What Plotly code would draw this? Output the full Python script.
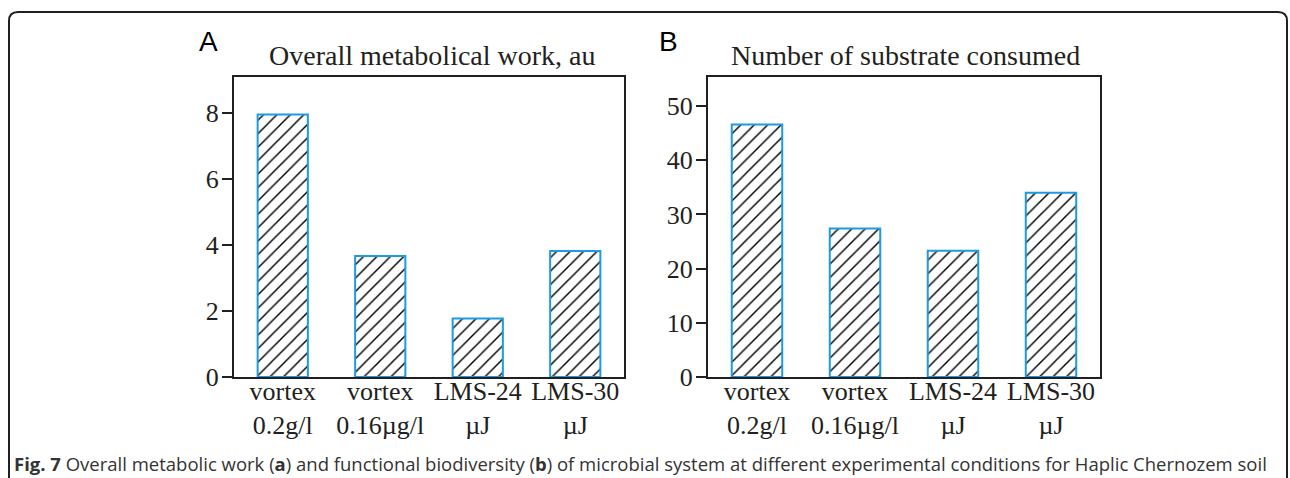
import plotly.graph_objects as go

categories = ["vortex<br>0.2g/l", "vortex<br>0.16µg/l", "LMS-24<br>µJ", "LMS-30<br>µJ"]
work_values = [7.95, 3.67, 1.77, 3.82]
substrate_values = [46.6, 27.4, 23.3, 34.0]
ticks_a = [0, 2, 4, 6, 8]
ticks_b = [0, 10, 20, 30, 40, 50]
title_a = "Overall metabolical work, au"
title_b = "Number of substrate consumed"
caption = ("<b>Fig. 7</b> Overall metabolic work (<b>a</b>) and functional biodiversity "
           "(<b>b</b>) of microbial system at different experimental conditions for Haplic Chernozem soil")

W, H = 1290, 478
BLUE = "#1E9BE0"
SERIF = "Liberation Serif, Times New Roman, serif"

def px_x(v):
    return v / W

def px_y(v):
    return 1 - v / H

fig = go.Figure()
bar_style = dict(
    marker=dict(color="white",
                line=dict(color=BLUE, width=2),
                pattern=dict(shape="/", fgcolor="black", fgopacity=1, bgcolor="white",
                             size=9.5, solidity=0.15)),
    width=0.515, showlegend=False, hoverinfo="skip",
)
fig.add_trace(go.Bar(x=categories, y=work_values, xaxis="x", yaxis="y", **bar_style))
fig.add_trace(go.Bar(x=categories, y=substrate_values, xaxis="x2", yaxis="y2", **bar_style))

ydom = [px_y(377), px_y(77)]
common_x = dict(showline=True, linecolor="#231f20", linewidth=2, mirror=True, ticks="",
                showgrid=False, zeroline=False, type="category", automargin=False,
                tickfont=dict(family=SERIF, size=26, color="#231f20"), ticklabelstandoff=-10)
common_y = dict(showline=True, linecolor="#231f20", linewidth=2, mirror=True, ticks="outside",
                ticklen=10, tickwidth=1.5, tickcolor="#231f20", showgrid=False, zeroline=False,
                automargin=False, tickfont=dict(family=SERIF, size=26, color="#231f20"),
                ticklabelstandoff=-2)

fig.update_layout(
    width=W, height=H,
    margin=dict(l=0, r=0, t=0, b=0),
    paper_bgcolor="white", plot_bgcolor="white",
    bargap=0.485,
    xaxis=dict(domain=[px_x(234), px_x(624)], anchor="y", **common_x),
    yaxis=dict(domain=ydom, anchor="x", range=[0, 9.09], tickvals=ticks_a, **common_y),
    xaxis2=dict(domain=[px_x(708), px_x(1100)], anchor="y2", **common_x),
    yaxis2=dict(domain=ydom, anchor="x2", range=[0, 55.35], tickvals=ticks_b, **common_y),
)

annotations = [
    dict(text="A", x=px_x(208), y=px_y(42), xref="paper", yref="paper", showarrow=False,
         font=dict(family="Liberation Sans, Arial, sans-serif", size=28, color="black"),
         xanchor="center", yanchor="middle"),
    dict(text="B", x=px_x(668), y=px_y(42), xref="paper", yref="paper", showarrow=False,
         font=dict(family="Liberation Sans, Arial, sans-serif", size=28, color="black"),
         xanchor="center", yanchor="middle"),
    dict(text=title_a, x=px_x(433), y=px_y(55), xref="paper", yref="paper", showarrow=False,
         font=dict(family=SERIF, size=28, color="#231f20"), xanchor="center", yanchor="middle"),
    dict(text=title_b, x=px_x(905), y=px_y(55), xref="paper", yref="paper", showarrow=False,
         font=dict(family=SERIF, size=28, color="#231f20"), xanchor="center", yanchor="middle"),
    dict(text=caption, x=px_x(12), y=px_y(463), xref="paper", yref="paper", showarrow=False,
         font=dict(family="Open Sans, sans-serif", size=18.5, color="#333333"),
         xanchor="left", yanchor="middle"),
]
fig.update_layout(annotations=annotations)

# outer rounded frame (open at the bottom)
x0, x1, y0, yb, r = 9, 1287, 12, 500, 9
path = (f"M {px_x(x0)},{px_y(yb)} L {px_x(x0)},{px_y(y0 + r)} "
        f"Q {px_x(x0)},{px_y(y0)} {px_x(x0 + r)},{px_y(y0)} "
        f"L {px_x(x1 - r)},{px_y(y0)} Q {px_x(x1)},{px_y(y0)} {px_x(x1)},{px_y(y0 + r)} "
        f"L {px_x(x1)},{px_y(yb)}")
fig.add_shape(type="path", path=path, xref="paper", yref="paper",
              line=dict(color="#231f20", width=2))

fig.write_html("out.html", config={"displayModeBar": False},
               post_script="document.body.style.margin='0';document.body.style.overflow='hidden';")
